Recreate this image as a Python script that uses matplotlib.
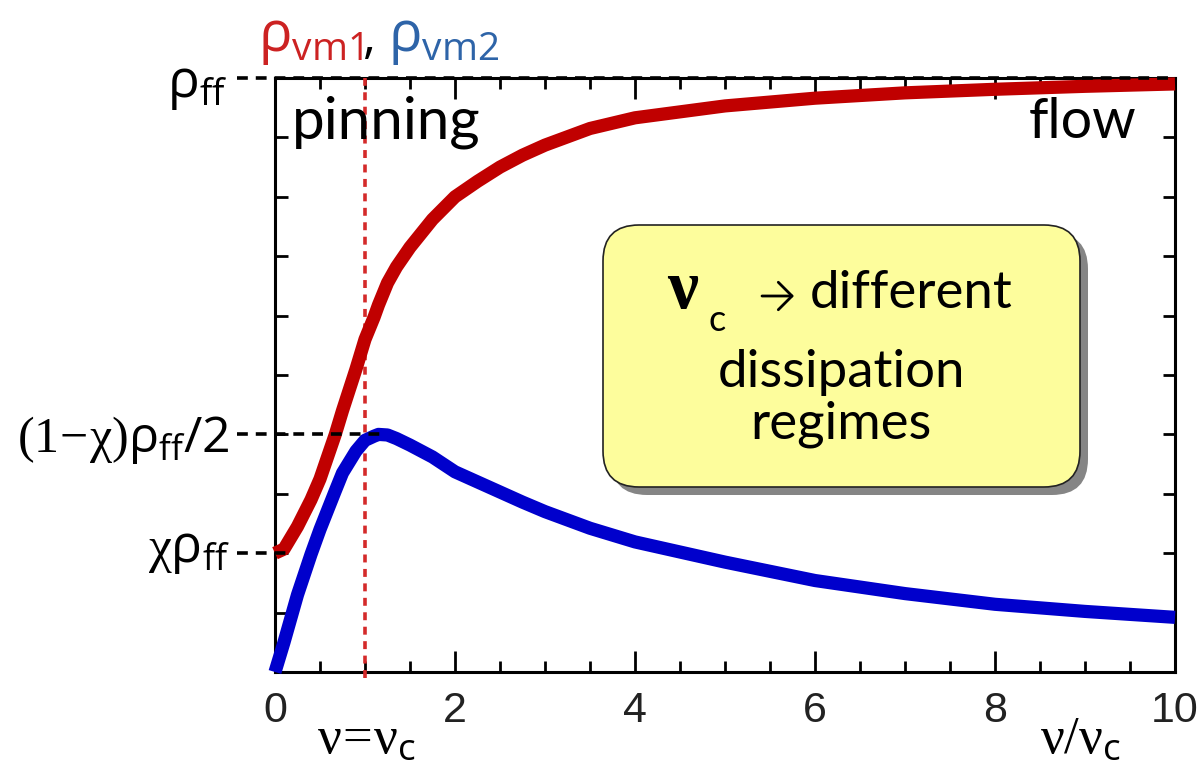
import matplotlib
matplotlib.use("Agg")
import matplotlib.pyplot as plt
from matplotlib.patches import FancyBboxPatch, FancyArrowPatch
from matplotlib.ticker import MultipleLocator

# values (x in units of nu/nu_c, y in units of rho_ff)
nu_ratio = [0, 0.1, 0.25, 0.4, 0.5, 0.67, 0.75, 0.9, 1, 1.1, 1.15, 1.25, 1.35, 1.5, 1.75,
            2, 2.25, 2.5, 2.75, 3, 3.5, 4, 5, 6, 7, 8, 9, 10]
rho_vm1 = [0.200, 0.207, 0.245, 0.290, 0.325, 0.400, 0.440, 0.510, 0.560, 0.597, 0.618,
           0.655, 0.682, 0.715, 0.762, 0.800, 0.826, 0.850, 0.870, 0.887, 0.915, 0.933,
           0.953, 0.966, 0.975, 0.981, 0.986, 0.990]
rho_vm2 = [0.000, 0.050, 0.130, 0.198, 0.240, 0.305, 0.335, 0.372, 0.390, 0.397, 0.400,
           0.399, 0.393, 0.382, 0.362, 0.337, 0.320, 0.303, 0.286, 0.270, 0.242, 0.219,
           0.185, 0.154, 0.132, 0.114, 0.102, 0.092]

nu_c = 1.0
ref_levels = [1.0, 0.4, 0.2]       # rho_ff, (1-chi)rho_ff/2, chi rho_ff
ref_ends = [10.0, 1.2, 0.15]       # where each dashed guide stops
x_ticks = [0, 2, 4, 6, 8, 10]

W, H = 1201, 767

plt.rcParams['mathtext.fontset'] = 'custom'
plt.rcParams['mathtext.rm'] = 'Liberation Serif'
plt.rcParams['mathtext.bf'] = 'Liberation Serif:bold'
plt.rcParams['mathtext.it'] = 'Liberation Serif:italic'
plt.rcParams['mathtext.sf'] = 'Open Sans'

fig = plt.figure(figsize=(W / 100, H / 100), dpi=100)
ax = fig.add_axes([275 / W, 1 - 672 / H, 900 / W, 594 / H])


def px(x, y):
    return x / W, 1 - y / H


# curves
ax.plot(nu_ratio, rho_vm1, color='#c00000', lw=9.5, solid_capstyle='butt',
        solid_joinstyle='round', clip_on=False, zorder=4)
ax.plot(nu_ratio, rho_vm2, color='#0000cc', lw=9.5, solid_capstyle='butt',
        solid_joinstyle='round', clip_on=False, zorder=4)

# guides
for lev, end in zip(ref_levels, ref_ends):
    ax.plot([-0.42, end], [lev, lev], color='black', lw=2.6, ls=(0, (3, 2.2)),
            clip_on=False, zorder=5)
ax.axvline(nu_c, ymin=-0.01, ymax=1, color='#d42a2a', lw=2.6, ls=(0, (2.2, 1.8)),
           clip_on=False, zorder=3)

ax.set_xlim(0, 10)
ax.set_ylim(0, 1)
ax.set_xticks(x_ticks)
ax.set_xticklabels([str(t) for t in x_ticks], fontfamily='Liberation Sans', fontsize=31, color='#222222')
ax.xaxis.set_minor_locator(MultipleLocator(0.5))
ax.yaxis.set_major_locator(MultipleLocator(0.1))
ax.set_yticklabels([])
ax.tick_params(which='major', axis='x', direction='in', length=15, width=2, top=True, pad=14)
ax.tick_params(which='minor', axis='x', direction='in', length=8, width=2, top=True)
ax.tick_params(axis='y', direction='in', length=9, width=2, right=True)
for sp in ax.spines.values():
    sp.set_linewidth(2.2)

# y-level labels
fig.text(*px(228, 86), r'$\mathsf{ρ_{ff}}$', fontsize=38, ha='right', va='center')
fig.text(*px(230, 440), r'$\mathrm{(1\!-\!χ)}\mathsf{ρ_{ff}/2}$', fontsize=36, ha='right', va='center')
fig.text(*px(230, 551), r'$\mathrm{χ}\mathsf{ρ_{ff}}$', fontsize=37, ha='right', va='center')

# series labels above the frame, placed one after the other
renderer = fig.canvas.get_renderer()
t1 = fig.text(*px(258, 40), r'$\mathsf{ρ_{vm1}}$', fontsize=40, color='#cc2222', ha='left', va='center')
x_next = t1.get_window_extent(renderer).x1
t2 = fig.text(x_next / W, 1 - 40 / H, ',', fontsize=36, color='black', ha='left', va='center',
              fontfamily='Open Sans')
x_next = t2.get_window_extent(renderer).x1 + 12
fig.text(x_next / W, 1 - 40 / H, r'$\mathsf{ρ_{vm2}}$', fontsize=40, color='#2e64a8', ha='left', va='center')

# regime labels
fig.text(*px(292, 122), 'pinning', fontsize=42, fontfamily='Lato', ha='left', va='center')
fig.text(*px(1137, 122), 'flow', fontsize=40, fontfamily='Lato', ha='right', va='center')

# axis annotations
fig.text(*px(317, 738), r'$\mathrm{ν\!=\!ν}_{\mathsf{c}}$', fontsize=38, ha='left', va='center')
fig.text(*px(1040, 738), r'$\mathrm{ν/ν}_{\mathsf{c}}$', fontsize=38, ha='left', va='center')

# yellow note box with shadow
bx0, by0 = px(603, 487)
bx1, by1 = px(1080, 225)
shadow = FancyBboxPatch((bx0 + 8 / W, by0 - 8 / H), bx1 - bx0, by1 - by0,
                        boxstyle='round,pad=0,rounding_size=0.03', mutation_aspect=W / H,
                        transform=fig.transFigure, facecolor='#858585', edgecolor='none', zorder=6)
box = FancyBboxPatch((bx0, by0), bx1 - bx0, by1 - by0,
                     boxstyle='round,pad=0,rounding_size=0.03', mutation_aspect=W / H,
                     transform=fig.transFigure, facecolor='#fdfd9c', edgecolor='#222222',
                     lw=1.2, zorder=7)
arrow = FancyArrowPatch(px(762, 296), px(794, 296), transform=fig.transFigure,
                        arrowstyle='->,head_length=0.45,head_width=0.45', mutation_scale=22,
                        shrinkA=0, shrinkB=0, lw=2.0, color='black', zorder=8)
fig.patches.extend([shadow, box, arrow])

fig.text(*px(667, 308), 'ν', fontsize=50, fontfamily='Liberation Serif', fontweight='bold',
         ha='left', va='baseline', zorder=8)
fig.text(*px(709, 331), 'c', fontsize=26, fontfamily='Lato', ha='left', va='baseline', zorder=8)
fig.text(*px(810, 308), 'different', fontsize=38, fontfamily='Lato', ha='left', va='baseline', zorder=8)
fig.text(*px(841, 387), 'dissipation', fontsize=38, fontfamily='Lato', ha='center', va='baseline', zorder=8)
fig.text(*px(841, 439), 'regimes', fontsize=38, fontfamily='Lato', ha='center', va='baseline', zorder=8)

fig.savefig('out.png', dpi=100)
